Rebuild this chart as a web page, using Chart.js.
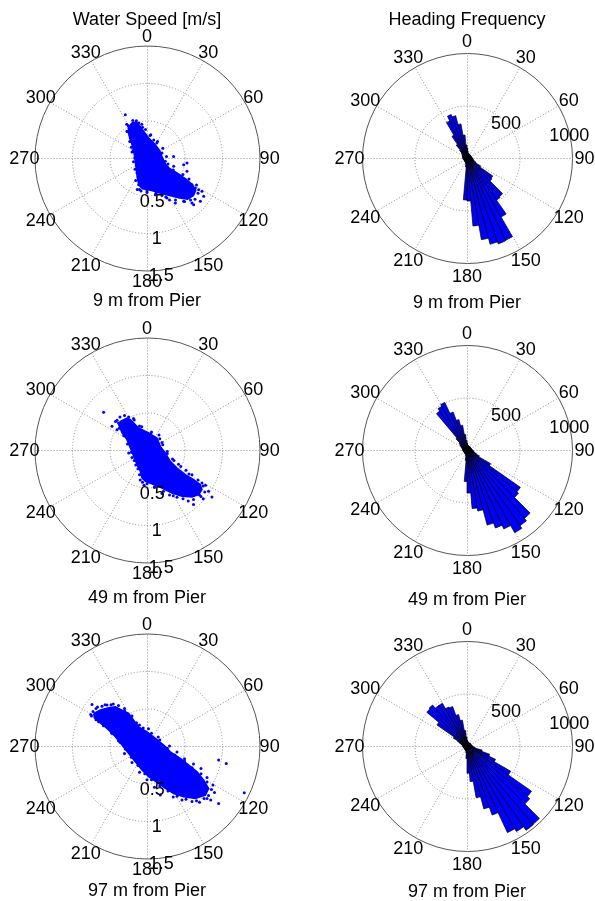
<!DOCTYPE html>
<html>
<head>
<meta charset="utf-8">
<script src="https://cdn.jsdelivr.net/npm/chart.js@4.4.1/dist/chart.umd.min.js"></script>
<style>
  body { margin: 0; background: #fff; }
  #fig { position: relative; width: 595px; height: 901px; overflow: hidden; }
  #fig canvas { position: absolute; }
  .txt { position: absolute; width: 300px; text-align: center; font: 18px/18px "Liberation Sans", Arial, sans-serif; color: #000; white-space: nowrap; }
</style>
</head>
<body>
<div id="fig">
  <canvas id="speed9" width="300" height="300" style="left:-3px;top:8px"></canvas>
  <canvas id="rose9" width="300" height="300" style="left:317px;top:8px"></canvas>
  <canvas id="speed49" width="300" height="300" style="left:-3px;top:300px"></canvas>
  <canvas id="rose49" width="300" height="300" style="left:317px;top:300px"></canvas>
  <canvas id="speed97" width="300" height="300" style="left:-3px;top:596px"></canvas>
  <canvas id="rose97" width="300" height="300" style="left:317px;top:596px"></canvas>

  <div class="txt" style="left:-3px;top:10px">Water Speed [m/s]</div>
  <div class="txt" style="left:317px;top:10px">Heading Frequency</div>
  <div class="txt" style="left:-3px;top:291px">9 m from Pier</div>
  <div class="txt" style="left:317px;top:293px">9 m from Pier</div>
  <div class="txt" style="left:-3px;top:588px">49 m from Pier</div>
  <div class="txt" style="left:317px;top:590px">49 m from Pier</div>
  <div class="txt" style="left:-3px;top:881px">97 m from Pier</div>
  <div class="txt" style="left:317px;top:882px">97 m from Pier</div>
</div>

<script>
// axis ticks
const angleTicks = [0, 30, 60, 90, 120, 150, 180, 210, 240, 270, 300, 330];
const speedRings = [0.5, 1, 1.5];
const speedRingLabels = ['0.5', '1', '1.5'];
const countRings = [500, 1000];
const countRingLabels = ['500', '1000'];

// heading bins, 5 degrees wide (bin start)
const binStarts = [
  0, 5, 10, 15, 20, 25, 30, 35, 40, 45, 50, 55,
  60, 65, 70, 75, 80, 85, 90, 95, 100, 105, 110, 115,
  120, 125, 130, 135, 140, 145, 150, 155, 160, 165, 170, 175,
  180, 185, 190, 195, 200, 205, 210, 215, 220, 225, 230, 235,
  240, 245, 250, 255, 260, 265, 270, 275, 280, 285, 290, 295,
  300, 305, 310, 315, 320, 325, 330, 335, 340, 345, 350, 355
];

// heading counts per bin
const heading9 = [
  95, 65, 50, 45, 45, 40, 40, 40, 40, 40, 40, 40,
  40, 40, 45, 45, 45, 50, 50, 55, 60, 65, 75, 95,
  150, 300, 310, 480, 490, 650, 865, 870, 850, 790, 650, 410,
  400, 85, 55, 45, 40, 40, 40, 35, 35, 35, 35, 35,
  35, 35, 35, 40, 40, 40, 40, 40, 45, 45, 45, 50,
  55, 60, 75, 100, 160, 250, 390, 440, 417, 330, 220, 125
];
const heading49 = [
  65, 50, 45, 45, 40, 40, 40, 40, 40, 40, 40, 40,
  40, 40, 45, 45, 45, 50, 55, 60, 65, 75, 95, 130,
  260, 620, 640, 850, 880, 910, 830, 790, 740, 590, 560, 410,
  300, 100, 55, 45, 40, 40, 40, 35, 35, 35, 35, 35,
  35, 35, 35, 40, 40, 40, 40, 40, 45, 50, 55, 65,
  75, 85, 100, 150, 452, 480, 500, 385, 300, 240, 150, 90
];
const heading97 = [
  55, 45, 40, 40, 40, 40, 35, 35, 35, 35, 40, 40,
  40, 40, 40, 45, 45, 50, 55, 60, 80, 150, 230, 300,
  480, 750, 780, 975, 980, 940, 910, 700, 620, 500, 340, 260,
  120, 65, 50, 45, 40, 40, 40, 35, 35, 35, 35, 35,
  35, 35, 35, 40, 40, 40, 40, 45, 50, 60, 75, 100,
  150, 350, 500, 510, 470, 470, 410, 400, 310, 250, 150, 85
];

// water velocity [east, north] m/s : outline of the dense cloud + scattered samples
const core9 = [
  [-0.2, 0.47], [-0.14, 0.48], [-0.09, 0.42], [-0.04, 0.35], [0.02, 0.27], [0.1, 0.19],
  [0.17, 0.1], [0.2, 0.02], [0.24, -0.07], [0.3, -0.14], [0.4, -0.2], [0.52, -0.28],
  [0.6, -0.35], [0.65, -0.43], [0.62, -0.5], [0.54, -0.55], [0.42, -0.53], [0.3, -0.5],
  [0.18, -0.47], [0.05, -0.43], [-0.06, -0.41], [-0.11, -0.36], [-0.13, -0.26], [-0.15, -0.1],
  [-0.17, 0.05], [-0.2, 0.18], [-0.24, 0.3], [-0.25, 0.4]
];
const spots9 = [
  [-0.289, 0.578], [-0.142, 0.498], [-0.111, 0.467], [-0.222, 0.4], [-0.267, 0.356], [-0.222, 0.267],
  [-0.209, 0.142], [-0.25, 0.43], [-0.19, 0.5], [-0.06, 0.41], [0.04, 0.3], [0.09, 0.24],
  [0.13, 0.2], [0.2, 0.067], [0.244, -0.044], [0.356, -0.111], [0.355, 0.021], [0.489, -0.089],
  [0.533, -0.067], [0.533, -0.178], [0.4, -0.289], [0.6, -0.356], [0.644, -0.4], [0.688, -0.423],
  [0.733, -0.444], [0.756, -0.511], [0.711, -0.578], [0.6, -0.6], [0.622, -0.622], [0.489, -0.578],
  [0.378, -0.6], [0.267, -0.533], [0.111, -0.489], [0.2, -0.5], [0.0, -0.46], [-0.08, -0.44],
  [-0.111, -0.356], [-0.133, -0.2], [-0.164, 0.0], [-0.18, 0.1], [0.3, -0.16], [0.45, -0.24],
  [0.68, -0.47], [0.58, -0.56], [0.3, -0.56],
  [-0.27, 0.45], [-0.26, 0.35], [-0.23, 0.22], [-0.2, 0.08], [-0.18, -0.05], [-0.16, -0.15],
  [-0.15, -0.3], [-0.13, -0.42], [-0.07, 0.45], [-0.02, 0.38], [0.05, 0.31], [0.14, 0.22],
  [0.21, 0.13], [0.26, 0.02], [0.28, -0.08], [0.35, -0.16], [0.48, -0.22], [0.56, -0.28],
  [0.66, -0.36], [0.64, -0.55], [0.5, -0.58], [0.38, -0.56], [0.25, -0.52], [0.12, -0.47],
  [0.0, -0.44], [-0.1, -0.42]
];
const core49 = [
  [-0.356, 0.382], [-0.267, 0.427], [-0.222, 0.404], [-0.2, 0.382], [-0.111, 0.293], [0.022, 0.227],
  [0.133, 0.16], [0.178, 0.049], [0.244, -0.04], [0.311, -0.151], [0.4, -0.24], [0.511, -0.329],
  [0.622, -0.396], [0.711, -0.462], [0.733, -0.529], [0.689, -0.596], [0.6, -0.627], [0.467, -0.618],
  [0.333, -0.573], [0.2, -0.507], [0.089, -0.462], [-0.022, -0.418], [-0.067, -0.373], [-0.089, -0.284],
  [-0.133, -0.196], [-0.178, -0.084], [-0.222, 0.027], [-0.267, 0.138], [-0.333, 0.227], [-0.378, 0.338]
];
const spots49 = [
  [-0.578, 0.502], [-0.467, 0.316], [-0.4, 0.396], [-0.36, 0.44], [-0.3, 0.46], [-0.244, 0.44],
  [-0.4, 0.27], [-0.38, 0.36], [-0.244, -0.04], [-0.2, -0.1], [-0.15, -0.2], [0.17, 0.15],
  [0.2, 0.1], [0.27, -0.05], [0.36, -0.14], [0.42, -0.19], [0.52, -0.27], [0.6, -0.33],
  [0.733, -0.44], [0.78, -0.47], [0.82, -0.55], [0.866, -0.626], [0.62, -0.728], [0.75, -0.65],
  [0.55, -0.68], [0.4, -0.63], [0.3, -0.6], [0.2, -0.58], [-0.09, -0.4], [-0.04, -0.47],
  [0.1, -0.5], [0.05, 0.22], [-0.1, 0.32], [-0.17, 0.4], [0.7, -0.6], [0.65, -0.45], [0.45, -0.3],
  [-0.42, 0.38], [-0.37, 0.29], [-0.31, 0.19], [-0.26, 0.08], [-0.21, -0.03], [-0.17, -0.14],
  [-0.12, -0.25], [-0.1, -0.33], [-0.06, -0.43], [-0.18, 0.42], [-0.07, 0.31], [0.06, 0.24],
  [0.16, 0.2], [0.21, 0.07], [0.27, -0.02], [0.34, -0.12], [0.45, -0.22], [0.56, -0.32],
  [0.68, -0.4], [0.75, -0.48], [0.77, -0.56], [0.72, -0.62], [0.62, -0.66], [0.48, -0.65],
  [0.35, -0.61], [0.22, -0.55], [0.1, -0.49], [0.0, -0.45]
];
const core97 = [
  [-0.711, 0.434], [-0.622, 0.479], [-0.511, 0.51], [-0.422, 0.523], [-0.333, 0.479], [-0.244, 0.434],
  [-0.178, 0.345], [-0.111, 0.256], [0.0, 0.19], [0.111, 0.101], [0.222, 0.012], [0.311, -0.077],
  [0.444, -0.166], [0.556, -0.255], [0.667, -0.344], [0.756, -0.455], [0.822, -0.566], [0.778, -0.655],
  [0.644, -0.7], [0.489, -0.677], [0.356, -0.633], [0.244, -0.566], [0.133, -0.486], [0.022, -0.41],
  [-0.067, -0.321], [-0.156, -0.21], [-0.244, -0.099], [-0.333, 0.012], [-0.422, 0.123], [-0.533, 0.234],
  [-0.644, 0.323], [-0.702, 0.376]
];
const spots97 = [
  [-0.733, 0.554], [-0.533, 0.547], [-0.68, 0.5], [-0.6, 0.53], [-0.45, 0.56], [-0.38, 0.54],
  [-0.3, 0.5], [-0.75, 0.42], [-0.72, 0.46], [-0.645, 0.323], [-0.55, 0.28], [-0.45, 0.17],
  [-0.36, 0.05], [-0.2, 0.3], [-0.1, 0.28], [0.02, 0.23], [0.15, 0.12], [0.3, 0.0],
  [0.4, -0.08], [0.5, -0.17], [0.955, -0.188], [1.057, -0.232], [0.62, -0.24], [0.72, -0.3],
  [0.8, -0.42], [0.88, -0.52], [0.9, -0.62], [1.297, -0.623], [0.955, -0.765], [0.85, -0.72],
  [0.7, -0.75], [0.6, -0.74], [0.467, -0.721], [0.35, -0.68], [0.177, -0.652], [0.1, -0.55],
  [0.0, -0.45], [-0.1, -0.35], [-0.2, -0.22], [-0.3, -0.1], [0.82, -0.66], [0.76, -0.7],
  [-0.66, 0.52], [-0.56, 0.55], [-0.48, 0.55], [-0.3, 0.47], [-0.2, 0.4], [-0.14, 0.31],
  [-0.05, 0.24], [0.06, 0.17], [0.17, 0.08], [0.27, -0.03], [0.37, -0.12], [0.5, -0.2],
  [0.6, -0.29], [0.72, -0.37], [0.8, -0.48], [0.86, -0.58], [0.8, -0.7], [0.66, -0.73],
  [0.52, -0.71], [0.4, -0.67], [0.28, -0.6], [0.17, -0.53], [0.06, -0.45], [-0.03, -0.37],
  [-0.12, -0.26], [-0.21, -0.15], [-0.29, -0.04], [-0.38, 0.07], [-0.47, 0.17], [-0.58, 0.27],
  [-0.68, 0.35], [-0.74, 0.4]
];

const BLUE = '#0000ff';
const GRID = '#8c8c8c';
const RIM = '#555555';
const FONT = '18px "Liberation Sans", Arial, sans-serif';

// polar grid: dotted spokes + rings, solid rim
function drawGrid(ctx, cx, cy, toPx, rings) {
  const outer = toPx(rings[rings.length - 1]);
  ctx.save();
  ctx.lineWidth = 1;
  ctx.strokeStyle = GRID;
  ctx.setLineDash([1, 2]);
  angleTicks.forEach(a => {
    const t = a * Math.PI / 180;
    ctx.beginPath();
    ctx.moveTo(cx + 0.5, cy + 0.5);
    ctx.lineTo(cx + 0.5 + outer * Math.sin(t), cy + 0.5 - outer * Math.cos(t));
    ctx.stroke();
  });
  rings.slice(0, -1).forEach(v => {
    ctx.beginPath();
    ctx.arc(cx + 0.5, cy + 0.5, toPx(v), 0, 2 * Math.PI);
    ctx.stroke();
  });
  ctx.setLineDash([]);
  ctx.strokeStyle = RIM;
  ctx.beginPath();
  ctx.arc(cx + 0.5, cy + 0.5, outer, 0, 2 * Math.PI);
  ctx.stroke();
  ctx.restore();
}

function putText(ctx, text, cx, cy, deg, dist) {
  const t = deg * Math.PI / 180;
  ctx.fillText(text, cx + dist * Math.sin(t), cy - dist * Math.cos(t) + 6.4);
}

function drawLabels(ctx, cx, cy, toPx, rings, ringLabels, ringAngles, ringPad, angleDist) {
  const outer = toPx(rings[rings.length - 1]);
  ctx.save();
  ctx.font = FONT;
  ctx.fillStyle = '#000';
  ctx.textAlign = 'center';
  ctx.textBaseline = 'alphabetic';
  angleTicks.forEach(a => putText(ctx, String(a), cx, cy, a, outer * angleDist));
  rings.forEach((v, i) => putText(ctx, ringLabels[i], cx, cy, ringAngles[i], toPx(v) + ringPad));
  ctx.restore();
}

function speedChart(id, core, spots) {
  return new Chart(document.getElementById(id), {
    type: 'scatter',
    data: {
      datasets: [
        {
          data: core.concat([core[0]]).map(([e, n]) => ({ x: e, y: n })),
          showLine: true,
          fill: 'shape',
          backgroundColor: BLUE,
          borderColor: BLUE,
          borderWidth: 1.5,
          pointRadius: 0
        },
        {
          data: spots.map(([e, n]) => ({ x: e, y: n })),
          backgroundColor: BLUE,
          borderWidth: 0,
          pointRadius: 1.5
        }
      ]
    },
    options: {
      responsive: false,
      animation: false,
      events: [],
      layout: { padding: 37.5 },
      scales: {
        x: { type: 'linear', min: -1.5, max: 1.5, display: false },
        y: { type: 'linear', min: -1.5, max: 1.5, display: false }
      },
      plugins: { legend: { display: false }, tooltip: { enabled: false } }
    },
    plugins: [{
      id: 'polarSpeed',
      beforeDatasetsDraw(chart) {
        const { x, y } = chart.scales;
        const cx = x.getPixelForValue(0), cy = y.getPixelForValue(0);
        drawGrid(chart.ctx, cx, cy, v => x.getPixelForValue(v) - cx, speedRings);
      },
      afterDraw(chart) {
        const { x, y } = chart.scales;
        const cx = x.getPixelForValue(0), cy = y.getPixelForValue(0);
        drawLabels(chart.ctx, cx, cy, v => x.getPixelForValue(v) - cx,
          speedRings, speedRingLabels, [173, 173, 173], 5, 1.09);
      }
    }]
  });
}

function roseChart(id, counts) {
  return new Chart(document.getElementById(id), {
    type: 'polarArea',
    data: {
      labels: binStarts.map(String),
      datasets: [{
        data: counts,
        backgroundColor: BLUE,
        borderColor: '#000',
        borderWidth: 0.7
      }]
    },
    options: {
      responsive: false,
      animation: false,
      events: [],
      layout: { padding: 44.5 },
      scales: {
        r: {
          min: 0,
          max: 1000,
          startAngle: 0,
          ticks: { display: false },
          grid: { display: false },
          angleLines: { display: false },
          pointLabels: { display: false }
        }
      },
      plugins: { legend: { display: false }, tooltip: { enabled: false } }
    },
    plugins: [{
      id: 'polarRose',
      beforeDatasetsDraw(chart) {
        const r = chart.scales.r;
        drawGrid(chart.ctx, r.xCenter, r.yCenter, v => r.getDistanceFromCenterForValue(v), countRings);
      },
      afterDraw(chart) {
        const r = chart.scales.r;
        drawLabels(chart.ctx, r.xCenter, r.yCenter, v => r.getDistanceFromCenterForValue(v),
          countRings, countRingLabels, [48, 77], 0, 1.12);
      }
    }]
  });
}

speedChart('speed9', core9, spots9);
roseChart('rose9', heading9);
speedChart('speed49', core49, spots49);
roseChart('rose49', heading49);
speedChart('speed97', core97, spots97);
roseChart('rose97', heading97);
</script>
</body>
</html>
